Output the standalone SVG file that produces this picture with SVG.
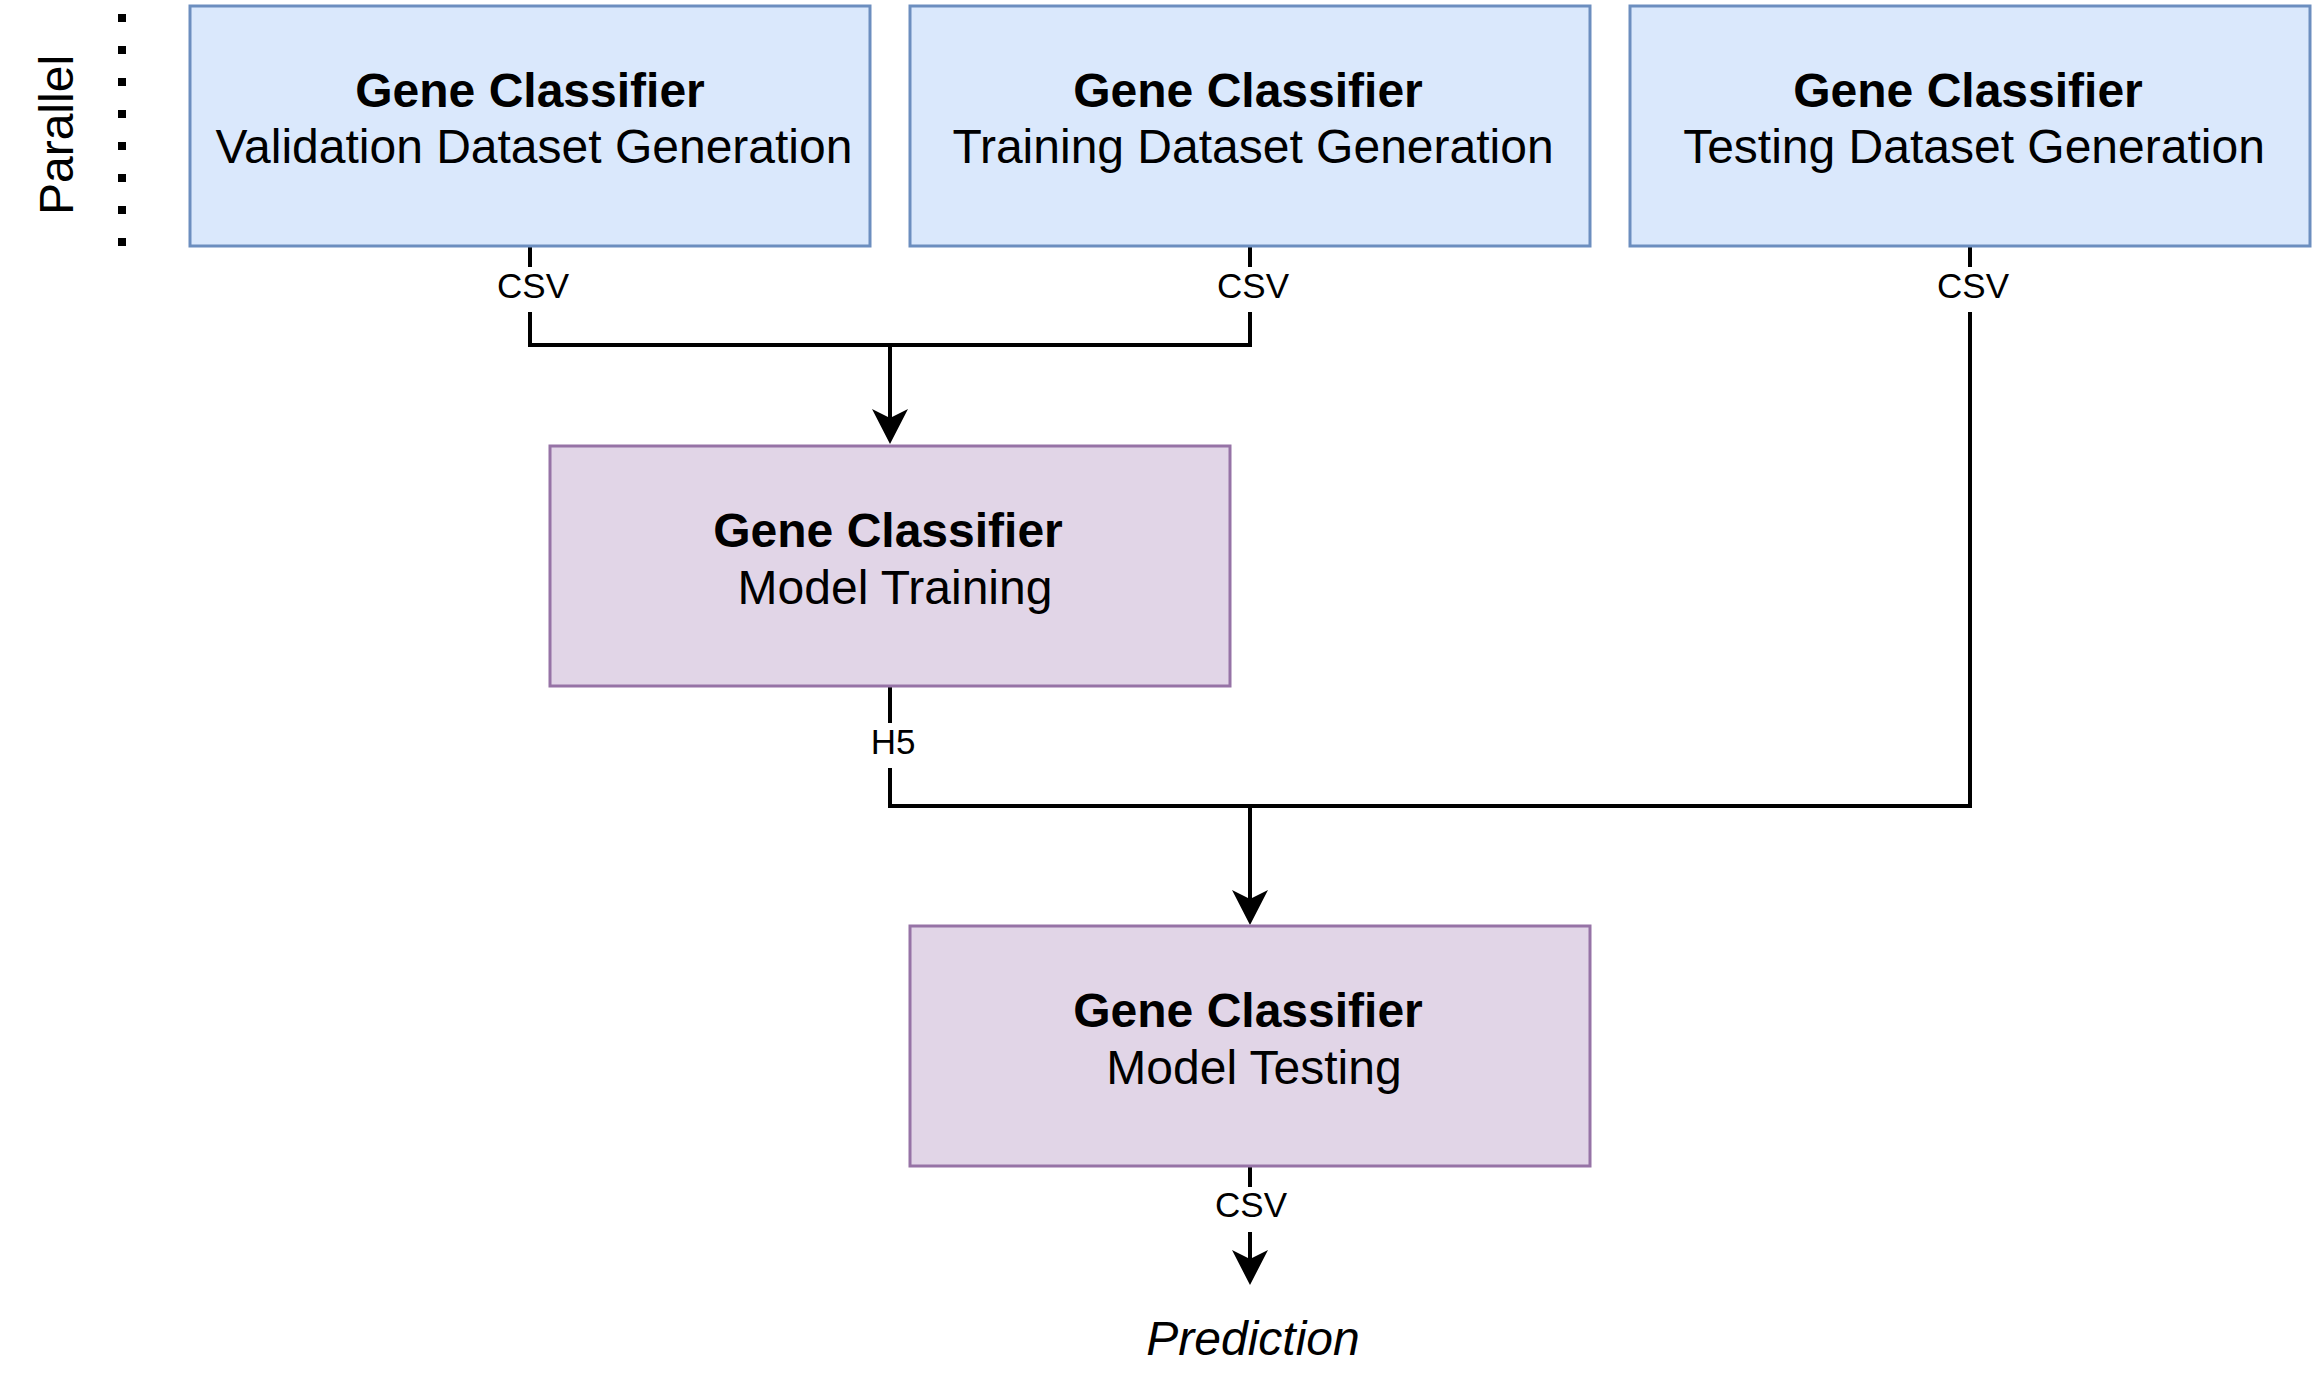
<svg xmlns="http://www.w3.org/2000/svg" width="2312" height="1400" viewBox="0 0 2312 1400">
  <style>
    text { font-family: "Liberation Sans", Arial, Helvetica, sans-serif; fill: #000; }
    .blue { fill: #dae8fc; stroke: #6c8ebf; stroke-width: 3; }
    .purple { fill: #e1d5e7; stroke: #9673a6; stroke-width: 3; }
    .title { font-size: 48px; font-weight: bold; text-anchor: middle; }
    .sub { font-size: 48px; text-anchor: middle; }
    .lbl { font-size: 35px; text-anchor: middle; }
    .edge { fill: none; stroke: #000; stroke-width: 4; }
    .lblbg { fill: #fff; stroke: none; }
    .head { fill: #000; }
  </style>
  <rect width="2312" height="1400" fill="#fff"/>

  <g id="parallel">
    <line x1="122" y1="14" x2="122" y2="246" stroke="#000" stroke-width="8" stroke-dasharray="8 24"/>
    <text transform="translate(73,135) rotate(-90)" x="0" y="0" font-size="48" text-anchor="middle">Parallel</text>
  </g>

  <g id="connectors">
    <path class="edge" d="M530 247 V345 H890 V440"/>
    <path class="edge" d="M1250 247 V345 H890"/>
    <path class="edge" d="M1970 247 V806 H1250"/>
    <path class="edge" d="M890 687 V806 H1250 V920"/>
    <path class="edge" d="M1250 1167 V1280"/>
    <path class="head" d="M890 444 L872 409 L890 418 L908 409 Z"/>
    <path class="head" d="M1250 925 L1232 890 L1250 899 L1268 890 Z"/>
    <path class="head" d="M1250 1285 L1232 1250 L1250 1259 L1268 1250 Z"/>
    <rect class="lblbg" x="498" y="267" width="72" height="45"/>
    <rect class="lblbg" x="1218" y="267" width="72" height="45"/>
    <rect class="lblbg" x="1938" y="267" width="72" height="45"/>
    <rect class="lblbg" x="866" y="723" width="54" height="45"/>
    <rect class="lblbg" x="1216" y="1187" width="72" height="45"/>
    <text class="lbl" x="533" y="298">CSV</text>
    <text class="lbl" x="1253" y="298">CSV</text>
    <text class="lbl" x="1973" y="298">CSV</text>
    <text class="lbl" x="893" y="754">H5</text>
    <text class="lbl" x="1251" y="1217">CSV</text>
  </g>

  <g id="node-validation">
    <rect class="blue" x="190" y="6" width="680" height="240"/>
    <text class="title" x="530" y="107">Gene Classifier</text>
    <text class="sub" x="534" y="163">Validation Dataset Generation</text>
  </g>
  <g id="node-training-data">
    <rect class="blue" x="910" y="6" width="680" height="240"/>
    <text class="title" x="1248" y="107">Gene Classifier</text>
    <text class="sub" x="1253" y="163">Training Dataset Generation</text>
  </g>
  <g id="node-testing-data">
    <rect class="blue" x="1630" y="6" width="680" height="240"/>
    <text class="title" x="1968" y="107">Gene Classifier</text>
    <text class="sub" x="1974" y="163">Testing Dataset Generation</text>
  </g>
  <g id="node-model-training">
    <rect class="purple" x="550" y="446" width="680" height="240"/>
    <text class="title" x="888" y="547">Gene Classifier</text>
    <text class="sub" x="895" y="604">Model Training</text>
  </g>
  <g id="node-model-testing">
    <rect class="purple" x="910" y="926" width="680" height="240"/>
    <text class="title" x="1248" y="1027">Gene Classifier</text>
    <text class="sub" x="1254" y="1084">Model Testing</text>
  </g>
  <g id="node-prediction">
    <text x="1253" y="1355" font-size="48" font-style="italic" text-anchor="middle">Prediction</text>
  </g>
</svg>
